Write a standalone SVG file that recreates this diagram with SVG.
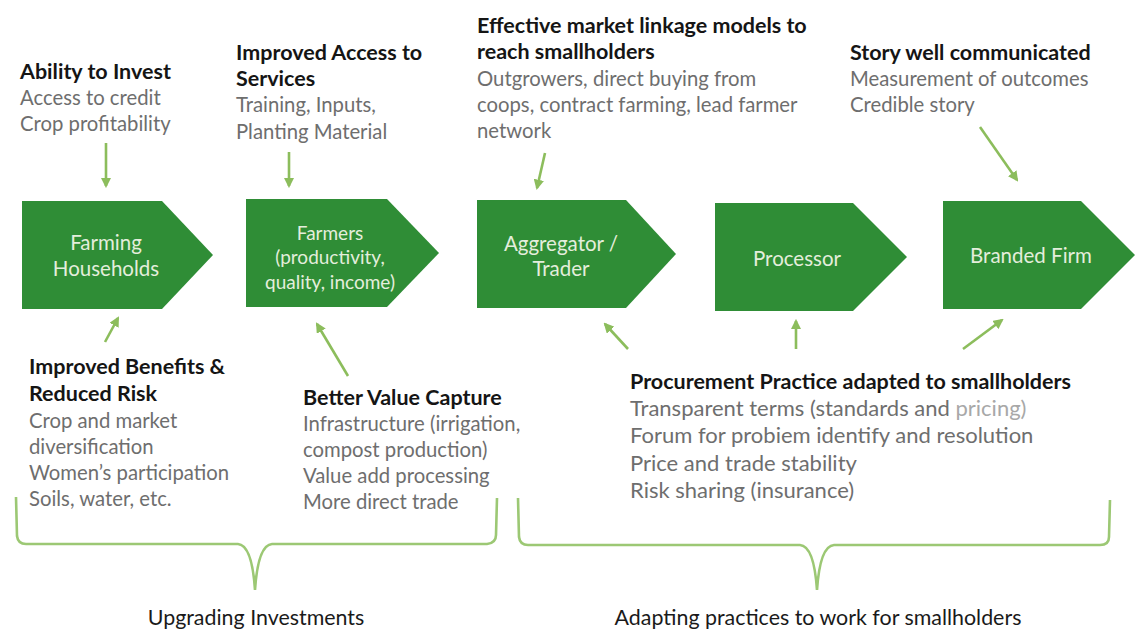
<svg xmlns="http://www.w3.org/2000/svg" width="1135" height="630" viewBox="0 0 1135 630">
  <defs>
    <style>
      .node { fill: #2f8d36; }
      .ntext { font-family: Lato, "Open Sans", sans-serif; font-size: 20.5px; fill: #e4eedc; text-anchor: middle; }
      .ntext.small { font-size: 19px; }
      .head { font-family: Lato, "Open Sans", sans-serif; font-size: 21.5px; font-weight: bold; fill: #151515; }
      .body { font-family: Lato, "Open Sans", sans-serif; font-size: 20.3px; fill: #6e6e6e; }
      .body.large { font-size: 22px; }
      .faint { fill: #a8a8a8; }
      .group { font-family: Lato, "Open Sans", sans-serif; font-size: 21.4px; fill: #1a1a1a; text-anchor: middle; }
      .link { stroke: #8cbd5c; stroke-width: 2.6; fill: none; marker-end: url(#tip); }
      .brace { stroke: #9cc874; stroke-width: 2.6; fill: none; }
    </style>
    <marker id="tip" viewBox="0 0 10 10" refX="8" refY="5" markerWidth="4" markerHeight="4" orient="auto" markerUnits="strokeWidth">
      <path d="M0,0 L10,5 L0,10 z" fill="#8cbd5c"/>
    </marker>
  </defs>
  <rect width="1135" height="630" fill="#ffffff"/>

  <!-- value chain stages -->
  <g id="farming-households">
    <polygon class="node" points="22,201 162,201 213,255 162,309 22,309"/>
    <text class="ntext" x="106" y="250">Farming</text>
    <text class="ntext" x="106" y="276">Households</text>
  </g>
  <g id="farmers">
    <polygon class="node" points="246,199 387,199 439,253 387,307 246,307"/>
    <text class="ntext small" x="330" y="240">Farmers</text>
    <text class="ntext small" x="330" y="264">(productivity,</text>
    <text class="ntext small" x="330" y="289">quality, income)</text>
  </g>
  <g id="aggregator">
    <polygon class="node" points="477,200 626,200 676,254 626,308 477,308"/>
    <text class="ntext" x="561" y="251">Aggregator /</text>
    <text class="ntext" x="561" y="276">Trader</text>
  </g>
  <g id="processor">
    <polygon class="node" points="715,203 853,203 907,257 853,311 715,311"/>
    <text class="ntext" x="797" y="266">Processor</text>
  </g>
  <g id="branded-firm">
    <polygon class="node" points="943,201 1081,201 1135,255 1081,309 943,309"/>
    <text class="ntext" x="1031" y="263">Branded Firm</text>
  </g>

  <!-- enabling conditions above the chain -->
  <g id="ability-to-invest">
    <text class="head" x="20" y="79">Ability to Invest</text>
    <text class="body" x="20" y="105">Access to credit</text>
    <text class="body" x="20" y="131">Crop profitability</text>
  </g>
  <g id="access-to-services">
    <text class="head" x="236" y="60">Improved Access to</text>
    <text class="head" x="236" y="86">Services</text>
    <text class="body" x="236" y="112">Training, Inputs,</text>
    <text class="body" x="236" y="139">Planting Material</text>
  </g>
  <g id="market-linkage">
    <text class="head" x="477" y="33">Effective market linkage models to</text>
    <text class="head" x="477" y="59">reach smallholders</text>
    <text class="body" x="477" y="86">Outgrowers, direct buying from</text>
    <text class="body" x="477" y="112">coops, contract farming, lead farmer</text>
    <text class="body" x="477" y="138">network</text>
  </g>
  <g id="story">
    <text class="head" x="850" y="60">Story well communicated</text>
    <text class="body" x="850" y="86">Measurement of outcomes</text>
    <text class="body" x="850" y="112">Credible story</text>
  </g>

  <!-- enabling conditions below the chain -->
  <g id="benefits-risk">
    <text class="head" x="29" y="374">Improved Benefits &amp;</text>
    <text class="head" x="29" y="401">Reduced Risk</text>
    <text class="body" x="29" y="428">Crop and market</text>
    <text class="body" x="29" y="454">diversification</text>
    <text class="body" x="29" y="480">Women’s participation</text>
    <text class="body" x="29" y="506">Soils, water, etc.</text>
  </g>
  <g id="value-capture">
    <text class="head" x="303" y="405">Better Value Capture</text>
    <text class="body" x="303" y="431">Infrastructure (irrigation,</text>
    <text class="body" x="303" y="457">compost production)</text>
    <text class="body" x="303" y="483">Value add processing</text>
    <text class="body" x="303" y="509">More direct trade</text>
  </g>
  <g id="procurement">
    <text class="head" x="630" y="389">Procurement Practice adapted to smallholders</text>
    <text class="body large" x="630" y="416">Transparent terms (standards and <tspan class="faint">pricing)</tspan></text>
    <text class="body large" x="630" y="443">Forum for probiem identify and resolution</text>
    <text class="body large" x="630" y="471">Price and trade stability</text>
    <text class="body large" x="630" y="498">Risk sharing (insurance)</text>
  </g>

  <!-- grouping braces -->
  <g id="upgrading-investments">
    <path class="brace" d="M16,497 L17,536 Q18,544 26,544 L238,544 Q252,545 255,590 Q258,545 272,544 L487,544 Q496,543 496,535 L497,498"/>
    <text class="group" x="256" y="625">Upgrading Investments</text>
  </g>
  <g id="adapting-practices">
    <path class="brace" d="M518,498 L519,537 Q520,545 528,545 L800,545 Q814,546 817,590 Q820,546 834,545 L1100,545 Q1109,545 1109,537 L1110,500"/>
    <text class="group" x="818" y="625">Adapting practices to work for smallholders</text>
  </g>

  <!-- connectors -->
  <g id="connectors">
    <line class="link" x1="106" y1="143" x2="106" y2="186"/>
    <line class="link" x1="289" y1="152" x2="289" y2="186"/>
    <line class="link" x1="545" y1="153" x2="537" y2="188"/>
    <line class="link" x1="980" y1="127" x2="1017" y2="180"/>
    <line class="link" x1="105" y1="342" x2="118" y2="318"/>
    <line class="link" x1="348" y1="376" x2="317" y2="324"/>
    <line class="link" x1="628" y1="349" x2="605" y2="324"/>
    <line class="link" x1="796" y1="349" x2="796" y2="321"/>
    <line class="link" x1="963" y1="349" x2="1002" y2="320"/>
  </g>
</svg>
